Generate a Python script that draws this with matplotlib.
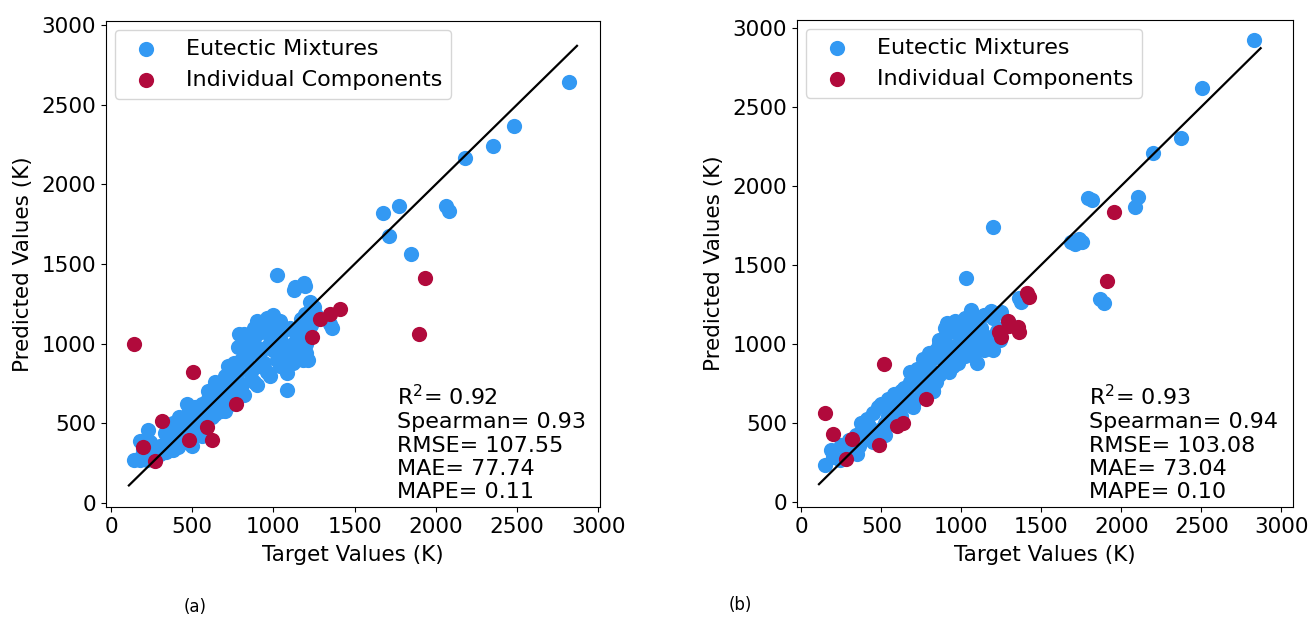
import matplotlib
import numpy as np

matplotlib.use("Agg")
import matplotlib.pyplot as plt  # noqa: E402

BLUE = "#3399f3"
RED = "#b10a3c"

# ---- panel (a) ----
a_mix_x = [
    2820, 2480, 2354, 2181, 1776, 1676, 2064, 2084, 1715, 1846, 1020, 1130,
    1194, 1249, 1194, 1173, 1000, 916, 1362, 1086, 1086, 1216, 1349, 1134,
    1189, 1226, 144, 179, 220, 179, 226,
    180, 220, 250, 300, 340, 380, 410, 200, 260, 300, 350, 390, 420, 330,
    380, 430, 240, 460, 470, 500, 450, 480, 520, 500, 540, 560, 580, 600,
    620, 560, 520, 480, 600, 640, 650, 680, 700, 640, 660, 700, 720, 740,
    700, 760, 780, 800, 820, 730, 760, 780, 800, 820, 840, 860, 880, 900,
    860, 880, 900, 920, 940, 960, 980, 960, 980, 1000, 1020, 1040, 1060,
    1000, 1040, 1080, 1100, 1120, 1140, 1160, 1180, 1200, 1220, 1100, 1060,
    940, 900, 960, 820, 780, 840, 880, 1000, 1040, 1180, 1120, 1080, 1150,
    1230, 1260, 470, 420, 380, 640, 790, 720,
    360, 400, 440, 540, 580, 620, 680, 740, 860, 920, 1020, 1140, 1200,
    600, 700, 780, 880, 980, 1060, 1160,
]
a_mix_y = [
    2640, 2365, 2239, 2164, 1866, 1818, 1866, 1833, 1676, 1563, 1430, 1335,
    1360, 1232, 1188, 1152, 1146, 1119, 1098, 814, 709, 898, 1124, 1354,
    1383, 1264, 270, 270, 272, 391, 458,
    280, 290, 300, 310, 320, 330, 350, 330, 340, 360, 380, 400, 420, 440,
    460, 480, 380, 380, 430, 360, 500, 520, 540, 460, 480, 420, 520, 560,
    600, 620, 600, 580, 650, 560, 640, 620, 680, 700, 740, 760, 720, 660,
    580, 700, 760, 720, 680, 820, 880, 820, 900, 960, 880, 820, 760, 740,
    940, 1000, 1060, 940, 880, 820, 800, 980, 1040, 960, 900, 860, 940,
    1100, 1020, 980, 920, 1000, 1060, 1100, 1000, 940, 1040, 1100, 1080,
    1120, 1140, 1160, 1060, 980, 1040, 1100, 1180, 1140, 900, 880, 860, 960,
    1120, 1180, 620, 540, 500, 760, 1060, 860,
    400, 440, 500, 440, 500, 540, 580, 620, 780, 860, 1060, 960, 1000,
    700, 800, 880, 1000, 1060, 1000, 1040,
]
a_ind_x = [1935, 1896, 1236, 1289, 1348, 1411, 144, 507, 314, 195, 271, 483,
           594, 620, 768]
a_ind_y = [1414, 1061, 1040, 1153, 1184, 1216, 995, 824, 517, 354, 266, 395,
           475, 395, 619]
a_stats = ["R$^2$= 0.92", "Spearman= 0.93", "RMSE= 107.55", "MAE= 77.74",
           "MAPE= 0.11"]

# ---- panel (b) ----
b_mix_x = [
    2830, 2502, 2372, 2198, 1792, 2102, 2082, 1688, 1734, 1865, 1200, 1817,
    1030, 1062, 907, 1183, 1370, 1710, 1753, 1891, 1057, 1357, 146, 187,
    200, 240, 280, 320, 360, 250, 300, 340, 390, 420, 370, 410, 450, 480,
    430, 470, 500, 520, 540, 560, 500, 540, 580, 600, 620, 560, 600, 640,
    660, 640, 680, 700, 720, 660, 700, 740, 760, 780, 720, 760, 800, 820,
    780, 820, 840, 860, 800, 840, 880, 900, 920, 860, 900, 940, 960, 980,
    900, 940, 980, 1000, 1020, 960, 1000, 1040, 1060, 1080, 1020, 1060,
    1100, 1120, 1140, 1080, 1120, 1160, 1180, 1200, 1240, 1140, 1200, 1250,
    1260, 1300, 1100, 950, 870, 1000, 760, 680,
    350, 450, 520, 620, 700, 820, 860, 1150, 1220,
]
b_mix_y = [
    2920, 2620, 2300, 2209, 1920, 1930, 1863, 1646, 1661, 1285, 1740, 1912,
    1414, 1187, 1132, 1204, 1263, 1631, 1646, 1258, 1213, 1287, 232, 327,
    280, 260, 300, 320, 350, 360, 390, 420, 440, 480, 500, 520, 560, 600,
    400, 430, 460, 500, 540, 580, 620, 650, 680, 640, 700, 500, 560, 620,
    660, 720, 760, 800, 740, 680, 600, 660, 720, 780, 840, 860, 880, 820,
    760, 700, 760, 800, 940, 960, 900, 840, 820, 1000, 1040, 980, 920, 880,
    1100, 1120, 1060, 980, 920, 1140, 1100, 1060, 1000, 940, 1160, 1120,
    1060, 1000, 960, 1140, 1100, 1040, 1000, 960, 1020, 1180, 1160, 1200,
    1100, 1130, 880, 860, 940, 1080, 900, 820,
    300, 380, 420, 540, 620, 700, 1020, 1000, 1080,
]
b_ind_x = [1951, 1912, 1424, 1295, 1360, 1249, 514, 146, 198, 318, 276, 488,
           595, 632, 778, 1237, 1289, 1351, 1411]
b_ind_y = [1832, 1399, 1295, 1111, 1074, 1042, 871, 563, 426, 399, 270, 359,
           479, 496, 652, 1074, 1142, 1108, 1323]
b_stats = ["R$^2$= 0.93", "Spearman= 0.94", "RMSE= 103.08", "MAE= 73.04",
           "MAPE= 0.10"]

LINE = [110, 2870]
TICKS = [0, 500, 1000, 1500, 2000, 2500, 3000]


def panel(ax, mx, my, ix, iy, stats):
    ax.scatter(mx, my, s=120, color=BLUE, label="Eutectic Mixtures", lw=0)
    ax.scatter(ix, iy, s=120, color=RED, label="Individual Components", lw=0)
    ax.plot(LINE, LINE, color="black", lw=1.6)
    ax.set_xlabel("Target Values (K)", fontsize=15.5, labelpad=6)
    ax.set_ylabel("Predicted Values (K)", fontsize=15.5, labelpad=6)
    ax.set_xticks(TICKS)
    ax.set_yticks(TICKS)
    ax.tick_params(labelsize=15.5)
    ax.text(0.59, 0.01, "\n".join(stats), transform=ax.transAxes,
            fontsize=16, va="bottom", ha="left", linespacing=1.2)
    ax.legend(loc="upper left", fontsize=16, borderaxespad=0.4)


fig = plt.figure(figsize=(13.15, 6.22), dpi=100)
ax1 = fig.add_axes([0.0806, 0.185, 0.3757, 0.781])
ax2 = fig.add_axes([0.606, 0.185, 0.377, 0.783])
panel(ax1, a_mix_x, a_mix_y, a_ind_x, a_ind_y, a_stats)
panel(ax2, b_mix_x, b_mix_y, b_ind_x, b_ind_y, b_stats)
ax1.set_xlim(-31, 3012)
ax1.set_ylim(-25, 3025)
ax2.set_xlim(-28, 3070)
ax2.set_ylim(-34, 3049)
fig.text(195 / 1315, 1 - 607 / 622, "(a)", fontsize=12, ha="center", va="center")
fig.text(740 / 1315, 1 - 605 / 622, "(b)", fontsize=12, ha="center", va="center")
fig.savefig("out.png", dpi=100)
